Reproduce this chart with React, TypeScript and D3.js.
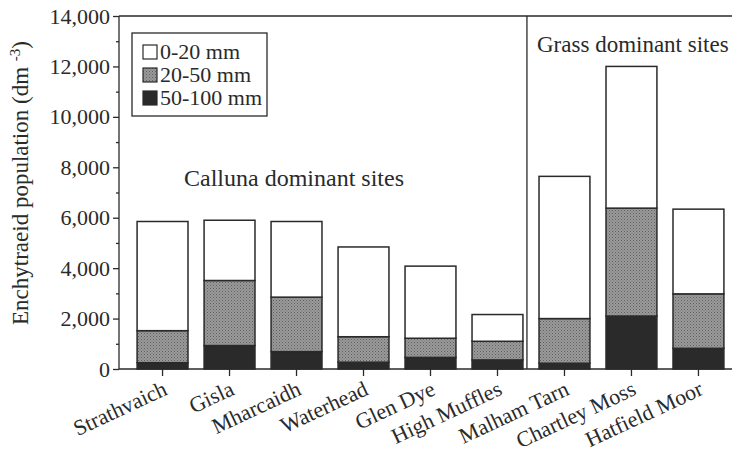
import React, { useEffect, useRef } from 'react';
import * as d3 from 'd3';

const sites = [
  'Strathvaich', 'Gisla', 'Mharcaidh', 'Waterhead', 'Glen Dye',
  'High Muffles', 'Malham Tarn', 'Chartley Moss', 'Hatfield Moor',
];
// layers, bottom to top
const deep50to100 = [250, 930, 690, 270, 460, 360, 230, 2100, 820];
const mid20to50 = [1270, 2580, 2160, 1010, 760, 740, 1770, 4280, 2160];
const top0to20 = [4330, 2390, 3000, 3560, 2860, 1060, 5640, 5620, 3360];

const layerKeys = ['deep', 'mid', 'top'];
const layerNames = { top: '0-20 mm', mid: '20-50 mm', deep: '50-100 mm' };
const majorTicks = [0, 2000, 4000, 6000, 8000, 10000, 12000, 14000];
const minorTicks = [1000, 3000, 5000, 7000, 9000, 11000, 13000];

const ink = '#2a2a2a';
const serif = '"Liberation Serif", "DejaVu Serif", serif';
const fills = { top: '#fff', mid: 'url(#stipple)', deep: '#2a2a2a' };

function App() {
  const ref = useRef(null);

  useEffect(() => {
    const svg = d3.select(ref.current);
    svg.selectAll('*').remove();

    const width = 732;
    const height = 454;
    const left = 119, top = 16, bottom = 369;

    const rows = sites.map((s, i) => ({
      site: s, deep: deep50to100[i], mid: mid20to50[i], top: top0to20[i],
    }));

    const x = d3.scaleBand().domain(sites).range([left, 742])
      .paddingInner(0.24).paddingOuter(0.27);
    const y = d3.scaleLinear().domain([0, 14000]).range([bottom, top]);

    svg.attr('width', width).attr('height', height);

    // stippled grey for the middle layer
    const defs = svg.append('defs');
    const pat = defs.append('pattern').attr('id', 'stipple')
      .attr('width', 3).attr('height', 3).attr('patternUnits', 'userSpaceOnUse');
    pat.append('rect').attr('width', 3).attr('height', 3).attr('fill', '#9a9a9a');
    pat.append('rect').attr('width', 1).attr('height', 1).attr('fill', '#606060');
    pat.append('rect').attr('x', 1.5).attr('y', 1.5).attr('width', 1).attr('height', 1).attr('fill', '#707070');

    // bars
    const stacked = d3.stack().keys(layerKeys)(rows);
    svg.append('g').selectAll('g').data(stacked).join('g')
      .attr('fill', (d) => fills[d.key])
      .selectAll('rect').data((d) => d).join('rect')
      .attr('x', (d) => x(d.data.site))
      .attr('y', (d) => y(d[1]))
      .attr('height', (d) => y(d[0]) - y(d[1]))
      .attr('width', x.bandwidth())
      .attr('stroke', ink).attr('stroke-width', 1.5);

    // frame
    const frame = svg.append('g').attr('stroke', ink).attr('stroke-width', 1.3);
    frame.append('line').attr('x1', left).attr('x2', width).attr('y1', top).attr('y2', top);
    frame.append('line').attr('x1', left).attr('x2', width).attr('y1', bottom).attr('y2', bottom);
    frame.append('line').attr('x1', left).attr('x2', left).attr('y1', top).attr('y2', bottom);
    const divX = x('High Muffles') + x.bandwidth() + 4;
    frame.append('line').attr('x1', divX).attr('x2', divX).attr('y1', top).attr('y2', bottom);

    // y axis
    const yAxis = svg.append('g').attr('transform', `translate(${left},0)`)
      .call(d3.axisLeft(y).tickValues(majorTicks).tickSize(6).tickPadding(3)
        .tickFormat(d3.format(',')));
    yAxis.attr('font-family', serif);
    yAxis.select('.domain').remove();
    yAxis.selectAll('line').attr('stroke', ink).attr('stroke-width', 1.3);
    yAxis.selectAll('text').attr('font-size', 22).attr('fill', ink);
    const yMinor = svg.append('g').attr('transform', `translate(${left},0)`)
      .call(d3.axisLeft(y).tickValues(minorTicks).tickSize(3).tickFormat(() => ''));
    yMinor.select('.domain').remove();
    yMinor.selectAll('line').attr('stroke', ink).attr('stroke-width', 1.3);

    // x axis
    const xAxis = svg.append('g').attr('transform', `translate(0,${bottom})`)
      .call(d3.axisBottom(x).tickSize(7).tickFormat(() => ''));
    xAxis.select('.domain').remove();
    xAxis.selectAll('line').attr('stroke', ink).attr('stroke-width', 1.3);

    svg.append('g').selectAll('text').data(sites).join('text')
      .attr('transform', (d) => `translate(${x(d) + x.bandwidth() / 2 + 6},394) rotate(-25)`)
      .attr('text-anchor', 'end')
      .attr('font-family', serif)
      .attr('font-size', 22).attr('fill', ink)
      .text((d) => d);

    // y label
    const yl = svg.append('text')
      .attr('transform', 'translate(28,183) rotate(-90)')
      .attr('text-anchor', 'middle').attr('font-family', serif)
      .attr('font-size', 23).attr('fill', ink);
    yl.append('tspan').text('Enchytraeid population (dm ');
    yl.append('tspan').attr('dy', -8).attr('font-size', 15).text('-3');
    yl.append('tspan').attr('dy', 8).text(')');

    // annotations
    svg.append('text').attr('x', 184).attr('y', 186).attr('font-size', 24)
      .attr('font-family', serif).attr('fill', ink).text('Calluna dominant sites');
    svg.append('text').attr('x', 537).attr('y', 52).attr('font-size', 23)
      .attr('font-family', serif).attr('fill', ink).text('Grass dominant sites');

    // legend
    const lg = svg.append('g');
    lg.append('rect').attr('x', 132).attr('y', 33).attr('width', 135).attr('height', 83)
      .attr('fill', '#fff').attr('stroke', ink).attr('stroke-width', 1.3);
    const order = ['top', 'mid', 'deep'];
    const item = lg.selectAll('g.item').data(order).join('g')
      .attr('transform', (d, i) => `translate(143,${45 + i * 23})`);
    item.append('rect').attr('width', 14).attr('height', 14)
      .attr('fill', (d) => fills[d]).attr('stroke', ink).attr('stroke-width', 1.2);
    item.append('text').attr('x', 17).attr('y', 14).attr('font-size', 22)
      .attr('font-family', serif).attr('fill', ink).text((d) => layerNames[d]);
  }, []);

  return <svg ref={ref} style={{ position: 'absolute', left: 0, top: 0 }}></svg>;
}

export default App;
